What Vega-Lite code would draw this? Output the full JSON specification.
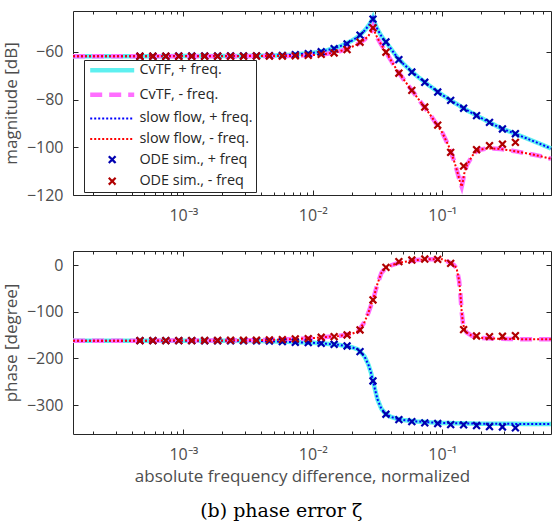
{
  "$schema": "https://vega.github.io/schema/vega-lite/v6.json",
  "background": "white",
  "padding": {"left": 2, "top": 8, "right": 0, "bottom": 0},
  "config": {
    "font": "Open Sans",
    "view": {"stroke": null},
    "axis": {
      "grid": false,
      "domainColor": "#262626",
      "tickColor": "#262626",
      "labelColor": "#4d4d4d",
      "titleColor": "#4d4d4d",
      "labelFont": "Open Sans",
      "titleFont": "Open Sans",
      "labelFontSize": 16,
      "titleFontSize": 17,
      "titleFontWeight": "normal",
      "labelOverlap": false,
      "labelFlush": false
    },
    "legend": {
      "orient": "none",
      "legendX": 11,
      "legendY": 49,
      "padding": 3,
      "fillColor": "white",
      "strokeColor": "#262626",
      "labelFont": "Open Sans",
      "labelFontSize": 14.4,
      "labelColor": "#262626",
      "symbolSize": 64,
      "symbolOffset": 18,
      "labelOffset": 20,
      "rowPadding": 5.6,
      "labelLimit": 400
    }
  },
  "datasets": {
    "curve": [
      {"x": 0.0001406, "mp": -61.8, "mm": -61.8, "pp": -162.0, "pm": -162.0},
      {"x": 0.0002512, "mp": -61.8, "mm": -61.8, "pp": -162.0, "pm": -162.0},
      {"x": 0.0005012, "mp": -61.8, "mm": -61.8, "pp": -162.0, "pm": -162.0},
      {"x": 0.001, "mp": -61.7, "mm": -61.8, "pp": -162.1, "pm": -161.9},
      {"x": 0.001995, "mp": -61.7, "mm": -61.8, "pp": -162.3, "pm": -161.6},
      {"x": 0.003981, "mp": -61.6, "mm": -61.7, "pp": -162.6, "pm": -161.0},
      {"x": 0.00631, "mp": -61.3, "mm": -61.7, "pp": -164.6, "pm": -159.3},
      {"x": 0.01, "mp": -60.4, "mm": -61.3, "pp": -166.7, "pm": -156.6},
      {"x": 0.012589, "mp": -59.4, "mm": -60.8, "pp": -168.5, "pm": -154.2},
      {"x": 0.015849, "mp": -57.9, "mm": -59.9, "pp": -171.0, "pm": -152.2},
      {"x": 0.019953, "mp": -55.3, "mm": -57.9, "pp": -176.0, "pm": -147.5},
      {"x": 0.022387, "mp": -53.6, "mm": -56.6, "pp": -181.0, "pm": -142.0},
      {"x": 0.025119, "mp": -51.0, "mm": -54.8, "pp": -196.0, "pm": -122.0},
      {"x": 0.026915, "mp": -49.0, "mm": -53.2, "pp": -214.0, "pm": -102.0},
      {"x": 0.028184, "mp": -47.3, "mm": -51.5, "pp": -231.0, "pm": -86.0},
      {"x": 0.029174, "mp": -45.5, "mm": -49.3, "pp": -248.0, "pm": -75.0},
      {"x": 0.0302, "mp": -48.0, "mm": -51.8, "pp": -266.0, "pm": -60.0},
      {"x": 0.031623, "mp": -50.5, "mm": -54.2, "pp": -288.0, "pm": -40.0},
      {"x": 0.033884, "mp": -53.3, "mm": -57.0, "pp": -308.0, "pm": -17.0},
      {"x": 0.036308, "mp": -55.5, "mm": -59.6, "pp": -318.0, "pm": -7.0},
      {"x": 0.039811, "mp": -58.4, "mm": -63.2, "pp": -325.0, "pm": -1.5},
      {"x": 0.044668, "mp": -62.1, "mm": -67.6, "pp": -329.5, "pm": 3.5},
      {"x": 0.050119, "mp": -65.0, "mm": -71.4, "pp": -332.0, "pm": 6.5},
      {"x": 0.063096, "mp": -69.9, "mm": -78.6, "pp": -335.0, "pm": 10.5},
      {"x": 0.079433, "mp": -74.1, "mm": -85.8, "pp": -337.0, "pm": 12.5},
      {"x": 0.1, "mp": -78.0, "mm": -93.8, "pp": -338.3, "pm": 12.3},
      {"x": 0.112202, "mp": -79.8, "mm": -99.5, "pp": -338.6, "pm": 6.5},
      {"x": 0.123027, "mp": -81.1, "mm": -105.5, "pp": -338.9, "pm": 0.0},
      {"x": 0.129122, "mp": -81.8, "mm": -109.3, "pp": -339.0, "pm": -7.0},
      {"x": 0.134896, "mp": -82.4, "mm": -113.0, "pp": -339.1, "pm": -33.0},
      {"x": 0.138038, "mp": -82.8, "mm": -115.0, "pp": -339.2, "pm": -62.0},
      {"x": 0.141254, "mp": -83.1, "mm": -116.5, "pp": -339.2, "pm": -100.0},
      {"x": 0.144544, "mp": -83.4, "mm": -114.0, "pp": -339.3, "pm": -124.0},
      {"x": 0.147911, "mp": -83.7, "mm": -111.0, "pp": -339.3, "pm": -136.0},
      {"x": 0.154882, "mp": -84.4, "mm": -107.5, "pp": -339.4, "pm": -145.0},
      {"x": 0.169824, "mp": -85.6, "mm": -103.7, "pp": -339.6, "pm": -152.0},
      {"x": 0.186209, "mp": -86.8, "mm": -101.2, "pp": -339.8, "pm": -155.3},
      {"x": 0.223872, "mp": -89.1, "mm": -100.4, "pp": -340.0, "pm": -157.0},
      {"x": 0.281838, "mp": -91.9, "mm": -100.7, "pp": -340.2, "pm": -158.0},
      {"x": 0.354813, "mp": -94.0, "mm": -101.5, "pp": -340.3, "pm": -158.6},
      {"x": 0.446684, "mp": -96.2, "mm": -102.5, "pp": -340.4, "pm": -159.0},
      {"x": 0.562341, "mp": -98.4, "mm": -103.6, "pp": -340.5, "pm": -159.0},
      {"x": 0.691831, "mp": -100.5, "mm": -104.8, "pp": -340.5, "pm": -159.0}
    ],
    "ode": [
      {"x": 0.0004624, "mp": -61.8, "mm": -61.8, "pp": -162.0, "pm": -162.0},
      {"x": 0.0005821, "mp": -61.8, "mm": -61.8, "pp": -162.0, "pm": -162.0},
      {"x": 0.0007328, "mp": -61.8, "mm": -61.8, "pp": -162.0, "pm": -161.9},
      {"x": 0.0009226, "mp": -61.7, "mm": -61.8, "pp": -162.1, "pm": -161.9},
      {"x": 0.0011614, "mp": -61.7, "mm": -61.8, "pp": -162.1, "pm": -161.9},
      {"x": 0.0014622, "mp": -61.7, "mm": -61.8, "pp": -162.2, "pm": -161.8},
      {"x": 0.0018408, "mp": -61.7, "mm": -61.8, "pp": -162.3, "pm": -161.7},
      {"x": 0.0023174, "mp": -61.6, "mm": -61.8, "pp": -162.4, "pm": -161.2},
      {"x": 0.0029174, "mp": -61.6, "mm": -61.8, "pp": -162.5, "pm": -161.2},
      {"x": 0.0036728, "mp": -61.6, "mm": -61.7, "pp": -162.6, "pm": -161.0},
      {"x": 0.004624, "mp": -61.5, "mm": -61.7, "pp": -162.7, "pm": -160.5},
      {"x": 0.005821, "mp": -61.4, "mm": -61.7, "pp": -164.1, "pm": -159.8},
      {"x": 0.007328, "mp": -61.1, "mm": -61.6, "pp": -165.5, "pm": -158.3},
      {"x": 0.009226, "mp": -60.7, "mm": -61.4, "pp": -166.2, "pm": -157.6},
      {"x": 0.011614, "mp": -59.9, "mm": -61.0, "pp": -167.7, "pm": -154.8},
      {"x": 0.014622, "mp": -58.6, "mm": -60.4, "pp": -169.8, "pm": -153.4},
      {"x": 0.018408, "mp": -56.6, "mm": -59.0, "pp": -173.4, "pm": -149.9},
      {"x": 0.023174, "mp": -52.9, "mm": -55.9, "pp": -185.5, "pm": -139.2},
      {"x": 0.029174, "mp": -46.2, "mm": -49.9, "pp": -248.4, "pm": -74.9},
      {"x": 0.036728, "mp": -55.8, "mm": -60.1, "pp": -319.7, "pm": -5.0},
      {"x": 0.04624, "mp": -63.2, "mm": -68.9, "pp": -331.1, "pm": 7.2},
      {"x": 0.05821, "mp": -68.4, "mm": -76.1, "pp": -335.4, "pm": 10.7},
      {"x": 0.07328, "mp": -72.7, "mm": -83.1, "pp": -338.3, "pm": 12.8},
      {"x": 0.09226, "mp": -76.8, "mm": -90.7, "pp": -339.6, "pm": 12.2},
      {"x": 0.11614, "mp": -80.3, "mm": -102.1, "pp": -341.8, "pm": 3.6},
      {"x": 0.14622, "mp": -83.6, "mm": -107.9, "pp": -342.6, "pm": -138.5},
      {"x": 0.18408, "mp": -86.7, "mm": -101.0, "pp": -343.9, "pm": -152.0},
      {"x": 0.23174, "mp": -89.5, "mm": -99.3, "pp": -346.0, "pm": -153.4},
      {"x": 0.29174, "mp": -92.3, "mm": -98.7, "pp": -346.9, "pm": -152.7},
      {"x": 0.36728, "mp": -94.3, "mm": -97.9, "pp": -349.0, "pm": -151.3}
    ]
  },
  "title": {
    "text": "(b) phase error ζ",
    "orient": "bottom",
    "anchor": "middle",
    "font": "DejaVu Serif",
    "fontSize": 19,
    "fontWeight": "normal",
    "color": "#000000",
    "offset": 18
  },
  "spacing": 25,
  "resolve": {
    "scale": {"color": "independent", "shape": "independent", "strokeDash": "independent", "strokeWidth": "independent"},
    "legend": {"color": "independent", "shape": "independent", "strokeDash": "independent", "strokeWidth": "independent"}
  },
  "vconcat": [
    {
      "width": 478,
      "height": 184,
      "resolve": {"axis": {"x": "independent", "y": "independent"}},
      "layer": [
        {
          "data": {"name": "curve"},
          "mark": {"type": "line", "strokeCap": "butt"},
          "encoding": {
            "x": {"field": "x", "type": "quantitative", "scale": {"type": "log", "domain": [0.0001406, 0.6918]},
              "axis": {"orient": "bottom", "title": null,
                "values": [0.0002,0.0003,0.0004,0.0005,0.0006,0.0007,0.0008,0.0009,0.001,0.002,0.003,0.004,0.005,0.006,0.007,0.008,0.009,0.01,0.02,0.03,0.04,0.05,0.06,0.07,0.08,0.09,0.1,0.2,0.3,0.4,0.5,0.6],
                "tickSize": {"condition": {"test": "datum.value == 0.001 || datum.value == 0.01 || datum.value == 0.1", "value": -5}, "value": -3},
                "labelPadding": 17,
                "labelExpr": "datum.value == 0.001 ? '10⁻³' : datum.value == 0.01 ? '10⁻²' : datum.value == 0.1 ? '10⁻¹' : ''"}},
            "y": {"field": "mp", "type": "quantitative", "scale": {"domain": [-120, -42.8]},
              "axis": {"orient": "left", "title": "magnitude [dB]", "values": [-120, -100, -80, -60], "tickSize": -5, "labelPadding": 15, "titlePadding": 6}},
            "color": {"datum": "CvTF, + freq.", "legend": {"title": null}, "scale": {"domain": ["CvTF, + freq.", "CvTF, - freq.", "slow flow, + freq.", "slow flow, - freq.", "ODE sim., + freq", "ODE sim., - freq"], "range": ["#5ef0f0", "#ff6eff", "#0000ff", "#ff0000", "#0000b0", "#b00000"]}},
            "strokeDash": {"datum": "CvTF, + freq.", "legend": {"title": null}, "scale": {"type": "ordinal", "domain": ["CvTF, + freq.", "CvTF, - freq.", "slow flow, + freq.", "slow flow, - freq.", "ODE sim., + freq", "ODE sim., - freq"], "range": [[1, 0], [12, 7], [2, 2], [2, 2], [1, 0], [1, 0]]}},
            "strokeWidth": {"datum": "CvTF, + freq.", "legend": {"title": null}, "scale": {"type": "ordinal", "domain": ["CvTF, + freq.", "CvTF, - freq.", "slow flow, + freq.", "slow flow, - freq.", "ODE sim., + freq", "ODE sim., - freq"], "range": [4.5, 4.5, 2, 2, 2.2, 2.2]}}
          }
        },
        {
          "data": {"name": "curve"},
          "mark": {"type": "line", "strokeCap": "butt"},
          "encoding": {
            "x": {"field": "x", "type": "quantitative", "scale": {"type": "log", "domain": [0.0001406, 0.6918]},
              "axis": {"orient": "top", "title": null, "labels": false,
                "values": [0.0002,0.0003,0.0004,0.0005,0.0006,0.0007,0.0008,0.0009,0.001,0.002,0.003,0.004,0.005,0.006,0.007,0.008,0.009,0.01,0.02,0.03,0.04,0.05,0.06,0.07,0.08,0.09,0.1,0.2,0.3,0.4,0.5,0.6],
                "tickSize": {"condition": {"test": "datum.value == 0.001 || datum.value == 0.01 || datum.value == 0.1", "value": -5}, "value": -3}}},
            "y": {"field": "mm", "type": "quantitative", "scale": {"domain": [-120, -42.8]},
              "axis": {"orient": "right", "title": null, "labels": false, "values": [-120, -100, -80, -60], "tickSize": -5}},
            "color": {"datum": "CvTF, - freq.", "legend": {"title": null}, "scale": {"domain": ["CvTF, + freq.", "CvTF, - freq.", "slow flow, + freq.", "slow flow, - freq.", "ODE sim., + freq", "ODE sim., - freq"], "range": ["#5ef0f0", "#ff6eff", "#0000ff", "#ff0000", "#0000b0", "#b00000"]}},
            "strokeDash": {"datum": "CvTF, - freq.", "legend": {"title": null}, "scale": {"type": "ordinal", "domain": ["CvTF, + freq.", "CvTF, - freq.", "slow flow, + freq.", "slow flow, - freq.", "ODE sim., + freq", "ODE sim., - freq"], "range": [[1, 0], [12, 7], [2, 2], [2, 2], [1, 0], [1, 0]]}},
            "strokeWidth": {"datum": "CvTF, - freq.", "legend": {"title": null}, "scale": {"type": "ordinal", "domain": ["CvTF, + freq.", "CvTF, - freq.", "slow flow, + freq.", "slow flow, - freq.", "ODE sim., + freq", "ODE sim., - freq"], "range": [4.5, 4.5, 2, 2, 2.2, 2.2]}}
          }
        },
        {
          "data": {"name": "curve"},
          "mark": {"type": "line", "strokeCap": "butt"},
          "encoding": {
            "x": {"field": "x", "type": "quantitative", "scale": {"type": "log", "domain": [0.0001406, 0.6918]}, "axis": null},
            "y": {"field": "mp", "type": "quantitative", "scale": {"domain": [-120, -42.8]}, "axis": null},
            "color": {"datum": "slow flow, + freq.", "legend": {"title": null}, "scale": {"domain": ["CvTF, + freq.", "CvTF, - freq.", "slow flow, + freq.", "slow flow, - freq.", "ODE sim., + freq", "ODE sim., - freq"], "range": ["#5ef0f0", "#ff6eff", "#0000ff", "#ff0000", "#0000b0", "#b00000"]}},
            "strokeDash": {"datum": "slow flow, + freq.", "legend": {"title": null}, "scale": {"type": "ordinal", "domain": ["CvTF, + freq.", "CvTF, - freq.", "slow flow, + freq.", "slow flow, - freq.", "ODE sim., + freq", "ODE sim., - freq"], "range": [[1, 0], [12, 7], [2, 2], [2, 2], [1, 0], [1, 0]]}},
            "strokeWidth": {"datum": "slow flow, + freq.", "legend": {"title": null}, "scale": {"type": "ordinal", "domain": ["CvTF, + freq.", "CvTF, - freq.", "slow flow, + freq.", "slow flow, - freq.", "ODE sim., + freq", "ODE sim., - freq"], "range": [4.5, 4.5, 2, 2, 2.2, 2.2]}}
          }
        },
        {
          "data": {"name": "curve"},
          "mark": {"type": "line", "strokeCap": "butt"},
          "encoding": {
            "x": {"field": "x", "type": "quantitative", "scale": {"type": "log", "domain": [0.0001406, 0.6918]}, "axis": null},
            "y": {"field": "mm", "type": "quantitative", "scale": {"domain": [-120, -42.8]}, "axis": null},
            "color": {"datum": "slow flow, - freq.", "legend": {"title": null}, "scale": {"domain": ["CvTF, + freq.", "CvTF, - freq.", "slow flow, + freq.", "slow flow, - freq.", "ODE sim., + freq", "ODE sim., - freq"], "range": ["#5ef0f0", "#ff6eff", "#0000ff", "#ff0000", "#0000b0", "#b00000"]}},
            "strokeDash": {"datum": "slow flow, - freq.", "legend": {"title": null}, "scale": {"type": "ordinal", "domain": ["CvTF, + freq.", "CvTF, - freq.", "slow flow, + freq.", "slow flow, - freq.", "ODE sim., + freq", "ODE sim., - freq"], "range": [[1, 0], [12, 7], [2, 2], [2, 2], [1, 0], [1, 0]]}},
            "strokeWidth": {"datum": "slow flow, - freq.", "legend": {"title": null}, "scale": {"type": "ordinal", "domain": ["CvTF, + freq.", "CvTF, - freq.", "slow flow, + freq.", "slow flow, - freq.", "ODE sim., + freq", "ODE sim., - freq"], "range": [4.5, 4.5, 2, 2, 2.2, 2.2]}}
          }
        },
        {
          "data": {"name": "ode"},
          "mark": {"type": "point", "filled": false, "opacity": 1, "size": 64},
          "encoding": {
            "x": {"field": "x", "type": "quantitative", "scale": {"type": "log", "domain": [0.0001406, 0.6918]}, "axis": null},
            "y": {"field": "mp", "type": "quantitative", "scale": {"domain": [-120, -42.8]}, "axis": null},
            "color": {"datum": "ODE sim., + freq", "legend": {"title": null}, "scale": {"domain": ["CvTF, + freq.", "CvTF, - freq.", "slow flow, + freq.", "slow flow, - freq.", "ODE sim., + freq", "ODE sim., - freq"], "range": ["#5ef0f0", "#ff6eff", "#0000ff", "#ff0000", "#0000b0", "#b00000"]}},
            "shape": {"datum": "ODE sim., + freq", "legend": {"title": null}, "scale": {"domain": ["CvTF, + freq.", "CvTF, - freq.", "slow flow, + freq.", "slow flow, - freq.", "ODE sim., + freq", "ODE sim., - freq"], "range": ["M-5.5,0L5.5,0", "M-5.5,0L5.5,0", "M-5.5,0L5.5,0", "M-5.5,0L5.5,0", "M-0.85,-0.85L0.85,0.85M-0.85,0.85L0.85,-0.85", "M-0.85,-0.85L0.85,0.85M-0.85,0.85L0.85,-0.85"]}},
            "strokeWidth": {"datum": "ODE sim., + freq", "legend": {"title": null}, "scale": {"type": "ordinal", "domain": ["CvTF, + freq.", "CvTF, - freq.", "slow flow, + freq.", "slow flow, - freq.", "ODE sim., + freq", "ODE sim., - freq"], "range": [4.5, 4.5, 2, 2, 2.2, 2.2]}}
          }
        },
        {
          "data": {"name": "ode"},
          "mark": {"type": "point", "filled": false, "opacity": 1, "size": 64},
          "encoding": {
            "x": {"field": "x", "type": "quantitative", "scale": {"type": "log", "domain": [0.0001406, 0.6918]}, "axis": null},
            "y": {"field": "mm", "type": "quantitative", "scale": {"domain": [-120, -42.8]}, "axis": null},
            "color": {"datum": "ODE sim., - freq", "legend": {"title": null}, "scale": {"domain": ["CvTF, + freq.", "CvTF, - freq.", "slow flow, + freq.", "slow flow, - freq.", "ODE sim., + freq", "ODE sim., - freq"], "range": ["#5ef0f0", "#ff6eff", "#0000ff", "#ff0000", "#0000b0", "#b00000"]}},
            "shape": {"datum": "ODE sim., - freq", "legend": {"title": null}, "scale": {"domain": ["CvTF, + freq.", "CvTF, - freq.", "slow flow, + freq.", "slow flow, - freq.", "ODE sim., + freq", "ODE sim., - freq"], "range": ["M-5.5,0L5.5,0", "M-5.5,0L5.5,0", "M-5.5,0L5.5,0", "M-5.5,0L5.5,0", "M-0.85,-0.85L0.85,0.85M-0.85,0.85L0.85,-0.85", "M-0.85,-0.85L0.85,0.85M-0.85,0.85L0.85,-0.85"]}},
            "strokeWidth": {"datum": "ODE sim., - freq", "legend": {"title": null}, "scale": {"type": "ordinal", "domain": ["CvTF, + freq.", "CvTF, - freq.", "slow flow, + freq.", "slow flow, - freq.", "ODE sim., + freq", "ODE sim., - freq"], "range": [4.5, 4.5, 2, 2, 2.2, 2.2]}}
          }
        }
      ]
    },
    {
      "width": 478,
      "height": 183,
      "resolve": {"axis": {"x": "independent", "y": "independent"}},
      "layer": [
        {
          "data": {"name": "curve"},
          "mark": {"type": "line", "strokeCap": "butt", "stroke": "#5ef0f0", "strokeWidth": 4.5},
          "encoding": {
            "x": {"field": "x", "type": "quantitative", "scale": {"type": "log", "domain": [0.0001406, 0.6918]},
              "axis": {"orient": "bottom", "title": "absolute frequency difference, normalized", "titlePadding": 4, "titleX": 229, "titleAlign": "center",
                "values": [0.0002,0.0003,0.0004,0.0005,0.0006,0.0007,0.0008,0.0009,0.001,0.002,0.003,0.004,0.005,0.006,0.007,0.008,0.009,0.01,0.02,0.03,0.04,0.05,0.06,0.07,0.08,0.09,0.1,0.2,0.3,0.4,0.5,0.6],
                "tickSize": {"condition": {"test": "datum.value == 0.001 || datum.value == 0.01 || datum.value == 0.1", "value": -5}, "value": -3},
                "labelPadding": 17,
                "labelExpr": "datum.value == 0.001 ? '10⁻³' : datum.value == 0.01 ? '10⁻²' : datum.value == 0.1 ? '10⁻¹' : ''"}},
            "y": {"field": "pp", "type": "quantitative", "scale": {"domain": [-362, 30]},
              "axis": {"orient": "left", "title": "phase [degree]", "values": [-300, -200, -100, 0], "tickSize": -5, "labelPadding": 15, "titlePadding": 6}}
          }
        },
        {
          "data": {"name": "curve"},
          "mark": {"type": "line", "strokeCap": "butt", "stroke": "#ff6eff", "strokeWidth": 4.5, "strokeDash": [12, 7]},
          "encoding": {
            "x": {"field": "x", "type": "quantitative", "scale": {"type": "log", "domain": [0.0001406, 0.6918]},
              "axis": {"orient": "top", "title": null, "labels": false,
                "values": [0.0002,0.0003,0.0004,0.0005,0.0006,0.0007,0.0008,0.0009,0.001,0.002,0.003,0.004,0.005,0.006,0.007,0.008,0.009,0.01,0.02,0.03,0.04,0.05,0.06,0.07,0.08,0.09,0.1,0.2,0.3,0.4,0.5,0.6],
                "tickSize": {"condition": {"test": "datum.value == 0.001 || datum.value == 0.01 || datum.value == 0.1", "value": -5}, "value": -3}}},
            "y": {"field": "pm", "type": "quantitative", "scale": {"domain": [-362, 30]},
              "axis": {"orient": "right", "title": null, "labels": false, "values": [-300, -200, -100, 0], "tickSize": -5}}
          }
        },
        {
          "data": {"name": "curve"},
          "mark": {"type": "line", "strokeCap": "butt", "stroke": "#0000ff", "strokeWidth": 2, "strokeDash": [2, 2]},
          "encoding": {
            "x": {"field": "x", "type": "quantitative", "scale": {"type": "log", "domain": [0.0001406, 0.6918]}, "axis": null},
            "y": {"field": "pp", "type": "quantitative", "scale": {"domain": [-362, 30]}, "axis": null}
          }
        },
        {
          "data": {"name": "curve"},
          "mark": {"type": "line", "strokeCap": "butt", "stroke": "#ff0000", "strokeWidth": 2, "strokeDash": [2, 2]},
          "encoding": {
            "x": {"field": "x", "type": "quantitative", "scale": {"type": "log", "domain": [0.0001406, 0.6918]}, "axis": null},
            "y": {"field": "pm", "type": "quantitative", "scale": {"domain": [-362, 30]}, "axis": null}
          }
        },
        {
          "data": {"name": "ode"},
          "mark": {"type": "point", "filled": false, "opacity": 1, "size": 64, "stroke": "#0000b0", "strokeWidth": 2.2, "shape": "M-0.85,-0.85L0.85,0.85M-0.85,0.85L0.85,-0.85"},
          "encoding": {
            "x": {"field": "x", "type": "quantitative", "scale": {"type": "log", "domain": [0.0001406, 0.6918]}, "axis": null},
            "y": {"field": "pp", "type": "quantitative", "scale": {"domain": [-362, 30]}, "axis": null}
          }
        },
        {
          "data": {"name": "ode"},
          "mark": {"type": "point", "filled": false, "opacity": 1, "size": 64, "stroke": "#b00000", "strokeWidth": 2.2, "shape": "M-0.85,-0.85L0.85,0.85M-0.85,0.85L0.85,-0.85"},
          "encoding": {
            "x": {"field": "x", "type": "quantitative", "scale": {"type": "log", "domain": [0.0001406, 0.6918]}, "axis": null},
            "y": {"field": "pm", "type": "quantitative", "scale": {"domain": [-362, 30]}, "axis": null}
          }
        }
      ]
    }
  ]
}
